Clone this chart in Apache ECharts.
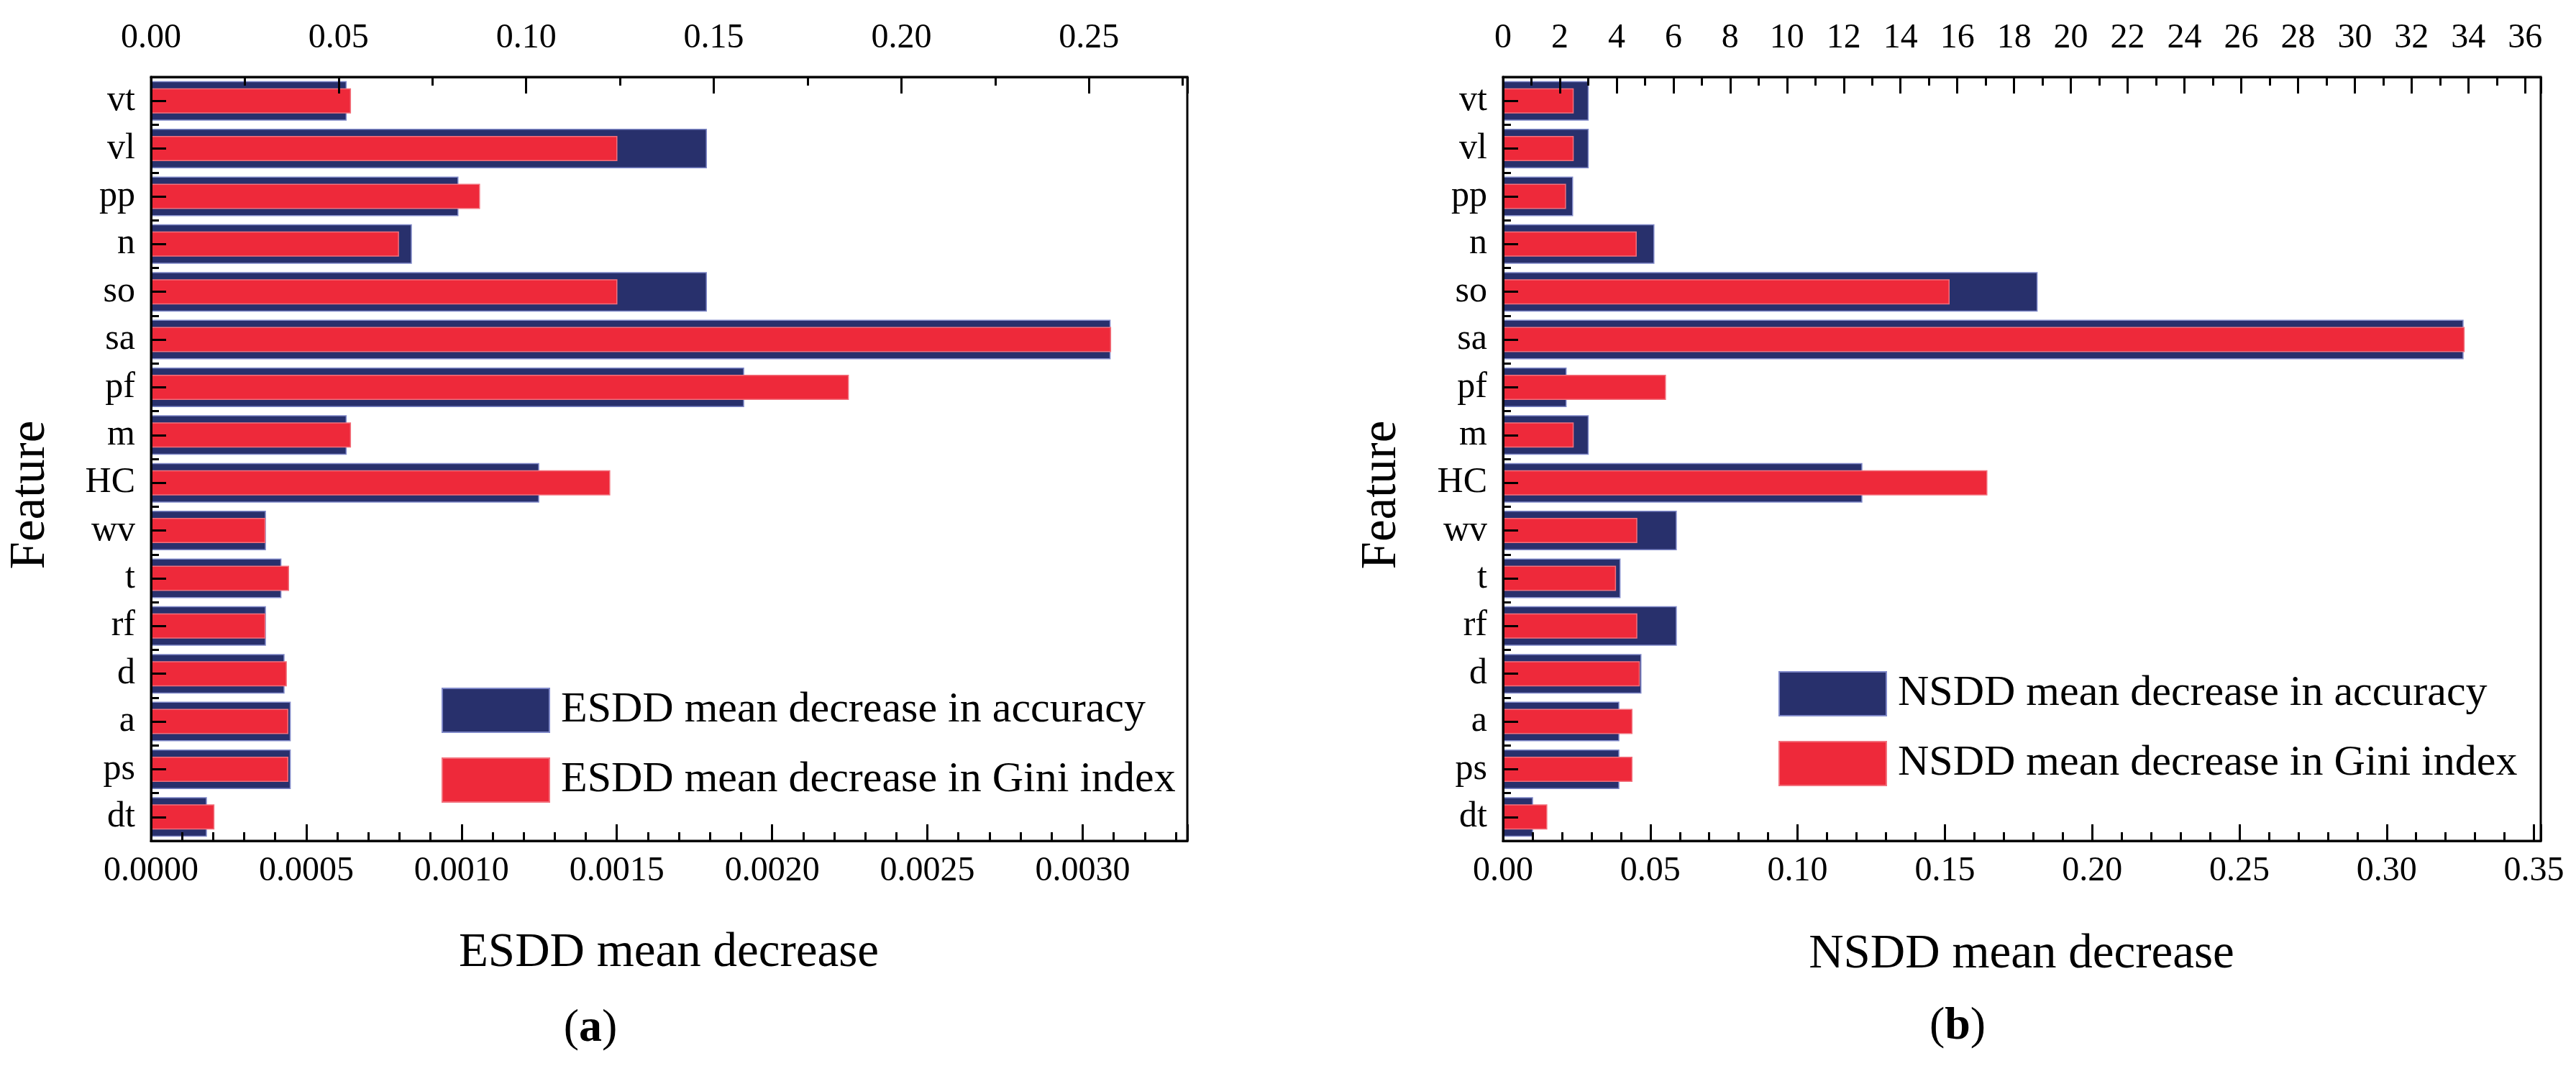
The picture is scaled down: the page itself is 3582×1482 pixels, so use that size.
<!DOCTYPE html>
<html>
<head>
<meta charset="utf-8">
<script src="https://cdn.jsdelivr.net/npm/echarts@6/dist/echarts.min.js"></script>
<style>
	html, body { margin: 0; padding: 0; background: #fff; }
	#chart { width: 3582px; height: 1482px; }
</style>
</head>
<body>
<div id="chart"></div>
<script>
// features, top to bottom
const features = ['vt', 'vl', 'pp', 'n', 'so', 'sa', 'pf', 'm', 'HC', 'wv', 't', 'rf', 'd', 'a', 'ps', 'dt'];

// (a) ESDD  - accuracy on the bottom axis, Gini on the top axis
const esddAccuracy = [0.00063, 0.00179, 0.00099, 0.00084, 0.00179, 0.00309, 0.00191, 0.00063, 0.00125, 0.00037, 0.00042, 0.00037, 0.00043, 0.00045, 0.00045, 0.00018];
const esddGini = [0.0533, 0.1243, 0.0877, 0.0661, 0.1243, 0.2559, 0.1860, 0.0533, 0.1224, 0.0305, 0.0368, 0.0305, 0.0362, 0.0366, 0.0366, 0.0169];

// (b) NSDD
const nsddAccuracy = [0.0291, 0.0291, 0.0238, 0.0514, 0.1815, 0.3261, 0.0216, 0.0291, 0.1220, 0.0590, 0.0399, 0.0590, 0.0470, 0.0395, 0.0395, 0.0102];
const nsddGini = [2.49, 2.49, 2.22, 4.71, 15.73, 33.87, 5.74, 2.49, 17.06, 4.73, 3.98, 4.73, 4.82, 4.56, 4.56, 1.56];

// axis ranges
const esddAccRange = [0, 0.003337];
const esddGiniRange = [0, 0.2762];
const nsddAccRange = [0, 0.3523];
const nsddGiniRange = [0, 36.55];

const FONT = 'Liberation Serif';
const BLUE = '#28306c';
const RED = '#ee293a';

function valueAxis(grid, pos, range, interval, minor, digits) {
	return {
		type: 'value',
		gridIndex: grid,
		position: pos,
		min: range[0],
		max: range[1],
		interval: interval,
		z: 10,
		axisLine: { show: true, lineStyle: { color: '#000', width: 3 } },
		axisTick: { show: true, inside: true, length: 23, lineStyle: { color: '#000', width: 3 } },
		minorTick: { show: true, splitNumber: minor, length: 12, lineStyle: { color: '#000', width: 3 } },
		splitLine: { show: false },
		axisLabel: {
			show: true,
			showMaxLabel: false,
			margin: pos === 'top' ? 30 : 18,
			fontFamily: FONT,
			fontSize: 48,
			color: '#000',
			formatter: (v) => v.toFixed(digits)
		}
	};
}

function catAxis(grid, centerTicks) {
	return {
		type: 'category',
		gridIndex: grid,
		position: 'left',
		inverse: true,
		data: features,
		z: 10,
		axisLine: { show: centerTicks, lineStyle: { color: '#000', width: 3 } },
		axisTick: {
			show: true,
			inside: true,
			alignWithLabel: centerTicks,
			length: centerTicks ? 21 : 11,
			lineStyle: { color: '#000', width: 3 }
		},
		splitLine: { show: false },
		axisLabel: {
			show: centerTicks,
			margin: 22,
			fontFamily: FONT,
			fontSize: 50,
			color: '#000'
		}
	};
}

function barSeries(name, x, y, data, color, edge, width) {
	return {
		name: name,
		type: 'bar',
		xAxisIndex: x,
		yAxisIndex: y,
		data: data,
		barWidth: width,
		silent: true,
		itemStyle: { color: color, borderColor: edge, borderWidth: 1.5 }
	};
}

function legendFor(names, left, top) {
	return {
		data: names,
		orient: 'vertical',
		left: left,
		top: top,
		padding: 0,
		itemWidth: 149,
		itemHeight: 61,
		itemGap: 34,
		icon: 'rect',
		selectedMode: false,
		textStyle: { fontFamily: FONT, fontSize: 60, color: '#000', padding: [0, 0, 0, 11] }
	};
}

function label(text, x, y, size, rotate) {
	return {
		type: 'text',
		x: x,
		y: y,
		rotation: rotate ? Math.PI / 2 : 0,
		style: {
			text: text,
			fontFamily: FONT,
			fontSize: size,
			fill: '#000',
			align: 'center',
			verticalAlign: 'middle',
			rich: { b: { fontFamily: FONT, fontSize: size, fontWeight: 'bold', fill: '#000' } }
		}
	};
}

const names = {
	ea: 'ESDD mean decrease in accuracy',
	eg: 'ESDD mean decrease in Gini index',
	na: 'NSDD mean decrease in accuracy',
	ng: 'NSDD mean decrease in Gini index'
};

const option = {
	animation: false,
	backgroundColor: '#fff',
	grid: [
		{ left: 210, top: 107, width: 1441, height: 1062, show: true, borderColor: '#000', borderWidth: 3, backgroundColor: 'transparent' },
		{ left: 2090, top: 107, width: 1443, height: 1062, show: true, borderColor: '#000', borderWidth: 3, backgroundColor: 'transparent' }
	],
	xAxis: [
		valueAxis(0, 'bottom', esddAccRange, 0.0005, 5, 4),
		valueAxis(0, 'top', esddGiniRange, 0.05, 2, 2),
		valueAxis(1, 'bottom', nsddAccRange, 0.05, 5, 2),
		valueAxis(1, 'top', nsddGiniRange, 2, 2, 0)
	],
	yAxis: [
		catAxis(0, true),
		catAxis(0, false),
		catAxis(1, true),
		catAxis(1, false)
	],
	legend: [
		legendFor([names.ea, names.eg], 614, 956),
		legendFor([names.na, names.ng], 2473, 933)
	],
	series: [
		barSeries(names.ea, 0, 0, esddAccuracy, BLUE, '#7f88c8', 55),
		barSeries(names.eg, 1, 1, esddGini, RED, '#f2707c', 35),
		barSeries(names.na, 2, 2, nsddAccuracy, BLUE, '#7f88c8', 55),
		barSeries(names.ng, 3, 3, nsddGini, RED, '#f2707c', 35)
	],
	graphic: [
		label('Feature', 43, 688, 69, true),
		label('Feature', 1922, 688, 69, true),
		label('ESDD mean decrease', 930, 1325, 67, false),
		label('NSDD mean decrease', 2811, 1327, 67, false),
		label('({b|a})', 821, 1430, 64, false),
		label('({b|b})', 2722, 1427, 64, false)
	]
};

const chart = echarts.init(document.getElementById('chart'));
chart.setOption(option);
</script>
</body>
</html>
